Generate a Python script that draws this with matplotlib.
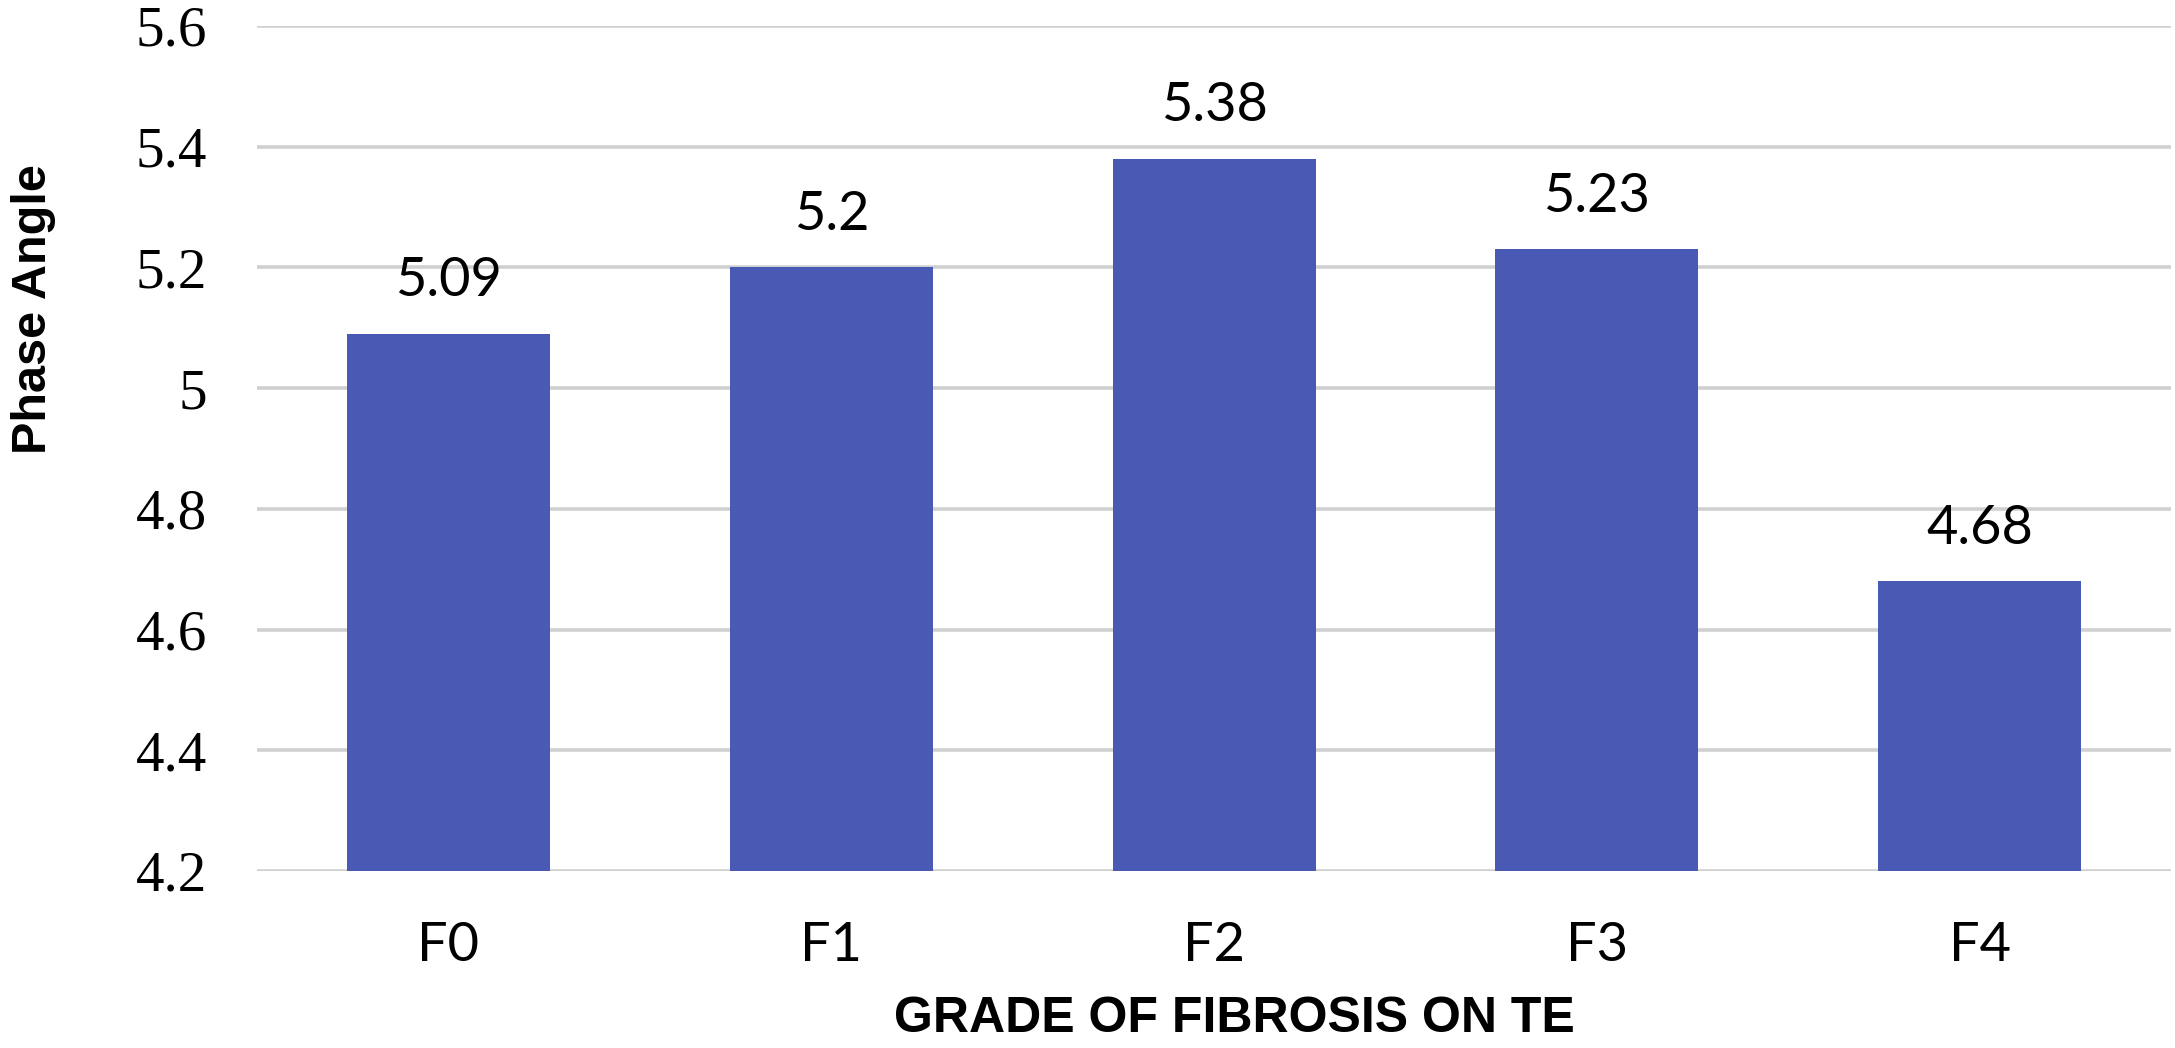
import matplotlib
matplotlib.use("Agg")
import matplotlib.pyplot as plt
import numpy as np

# Mean phase angle per fibrosis grade (transient elastography)
grades = ["F0", "F1", "F2", "F3", "F4"]
phase_angle = [5.09, 5.2, 5.38, 5.23, 4.68]
value_labels = ["5.09", "5.2", "5.38", "5.23", "4.68"]
y_ticks = [4.2, 4.4, 4.6, 4.8, 5.0, 5.2, 5.4, 5.6]
y_tick_labels = ["4.2", "4.4", "4.6", "4.8", "5", "5.2", "5.4", "5.6"]

bar_color = "#4a5ab4"
grid_color = "#d0d0d0"


def main():
    fig = plt.figure(figsize=(21.75, 10.48), dpi=100)
    ax = fig.add_axes([0.1182, 0.1689, 0.88, 0.8063])

    x = np.arange(len(grades))
    ax.bar(x, phase_angle, width=0.53, color=bar_color, zorder=2)

    ax.set_xlim(-0.5, len(grades) - 0.5)
    ax.set_ylim(4.2, 5.6)

    # horizontal gridlines only, behind the bars
    ax.set_yticks(y_ticks)
    ax.set_yticklabels(y_tick_labels, fontfamily="Liberation Serif", fontsize=41)
    ax.yaxis.grid(True, color=grid_color, linewidth=2.6, zorder=0)
    ax.set_axisbelow(True)
    ax.tick_params(axis="y", length=0, pad=36)

    ax.set_xticks(x)
    ax.set_xticklabels(grades, fontfamily="Lato", fontsize=39)
    ax.tick_params(axis="x", length=0, pad=65)
    for lbl in ax.get_xticklabels():
        lbl.set_va("baseline")

    for side in ["top", "right", "left", "bottom"]:
        ax.spines[side].set_visible(False)

    # value labels above each bar
    for xi, val, txt in zip(x, phase_angle, value_labels):
        ax.annotate(txt, (xi, val), xytext=(0, 27), textcoords="offset points",
                    ha="center", va="baseline", fontfamily="Lato", fontsize=39)

    fig.text(0.0156, 1 - 309 / 1048, "Phase Angle", rotation=90,
             ha="center", va="center", fontfamily="Liberation Sans",
             fontweight="bold", fontsize=35)
    fig.text(1234 / 2175, 1 - 1019 / 1048, "GRADE OF FIBROSIS ON TE",
             ha="center", va="center", fontfamily="Liberation Sans",
             fontweight="bold", fontsize=36)

    fig.savefig("out.png", dpi=100)


if __name__ == '__main__':
    main()
